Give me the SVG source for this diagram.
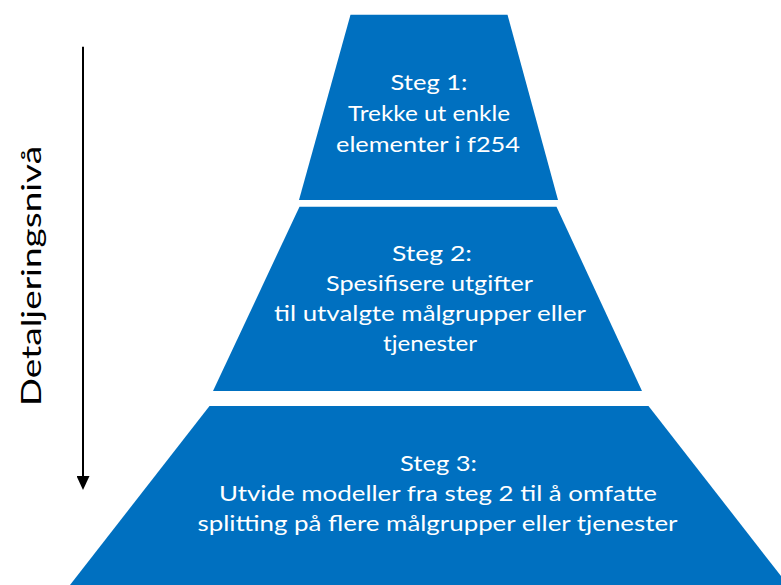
<svg xmlns="http://www.w3.org/2000/svg" width="781" height="585" viewBox="0 0 781 585">
  <defs>
    <style>
      .shape { fill: #0070C0; stroke: none; }
      .lbl { font-family: "Lato", "Liberation Sans", sans-serif; font-size: 22px; font-weight: 400; fill: #FFFFFF; text-anchor: middle; }
      .axis-lbl { font-family: "Lato", "Liberation Sans", sans-serif; font-size: 27px; font-weight: 400; fill: #000000; text-anchor: middle; }
      .axis-line { stroke: #000000; stroke-width: 2; fill: none; }
    </style>
    <marker id="arrowhead" markerWidth="14" markerHeight="13" refX="0" refY="6.5" orient="auto" markerUnits="userSpaceOnUse" viewBox="0 0 14 13">
      <path d="M0,0 L14,6.5 L0,13 Z" fill="#000000"/>
    </marker>
  </defs>
  <rect width="781" height="585" fill="#FFFFFF"/>

  <g id="step1">
    <polygon class="shape" points="350.5,14.7 507.5,14.7 558,200 299,200"/>
    <text class="lbl" x="429" y="90" textLength="77" lengthAdjust="spacingAndGlyphs">Steg 1:</text>
    <text class="lbl" x="429" y="120.5" textLength="162" lengthAdjust="spacingAndGlyphs">Trekke ut enkle</text>
    <text class="lbl" x="428" y="151.5" textLength="184" lengthAdjust="spacingAndGlyphs">elementer i f254</text>
  </g>

  <g id="step2">
    <polygon class="shape" points="299.5,206.7 556.5,206.7 642,391 213,391"/>
    <text class="lbl" x="432" y="260.7" textLength="80" lengthAdjust="spacingAndGlyphs">Steg 2:</text>
    <text class="lbl" x="429.5" y="290.7" textLength="207" lengthAdjust="spacingAndGlyphs">Spesifisere utgifter</text>
    <text class="lbl" x="430" y="320.7" textLength="312" lengthAdjust="spacingAndGlyphs">til utvalgte målgrupper eller</text>
    <text class="lbl" x="430" y="350.7" textLength="94" lengthAdjust="spacingAndGlyphs">tjenester</text>
  </g>

  <g id="step3">
    <polygon class="shape" points="209.5,406 648.5,406 788,585 70,585"/>
    <text class="lbl" x="438.5" y="471" textLength="77" lengthAdjust="spacingAndGlyphs">Steg 3:</text>
    <text class="lbl" x="438" y="501" textLength="438" lengthAdjust="spacingAndGlyphs">Utvide modeller fra steg 2 til å omfatte</text>
    <text class="lbl" x="437.5" y="531" textLength="480" lengthAdjust="spacingAndGlyphs">splitting på flere målgrupper eller tjenester</text>
  </g>

  <g id="connectors">
    <line class="axis-line" x1="83" y1="46.7" x2="83" y2="476" marker-end="url(#arrowhead)"/>
  </g>

  <g id="axis-label">
    <text class="axis-lbl" x="276" y="41" transform="rotate(-90 41 276) translate(-235 235)" textLength="260" lengthAdjust="spacingAndGlyphs">Detaljeringsnivå</text>
  </g>
</svg>
